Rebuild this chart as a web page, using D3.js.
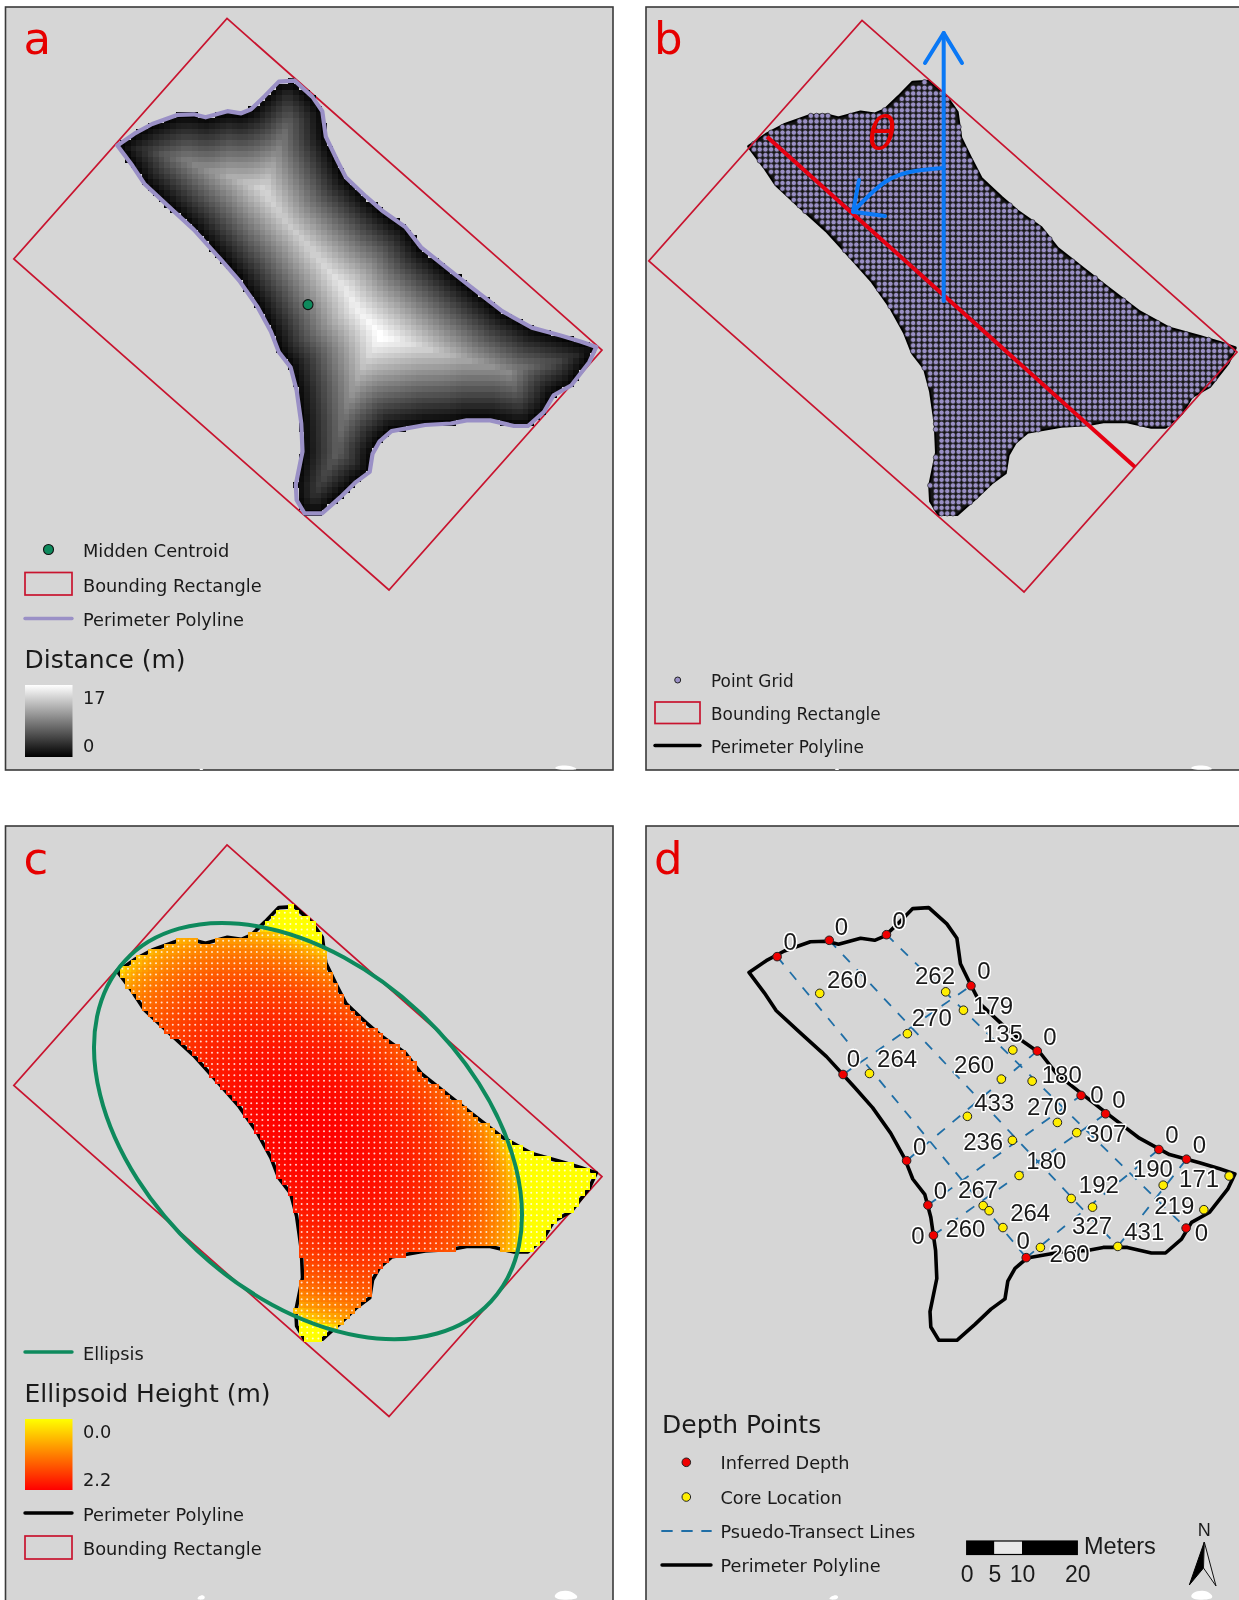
<!DOCTYPE html>
<html>
<head>
<meta charset="utf-8">
<script src="https://d3js.org/d3.v7.min.js"></script>
<style>
  body { margin: 0; background: #fff; }
  text { font-family: "DejaVu Sans", sans-serif; fill: #1a1a1a; }
</style>
</head>
<body>
<div id="chart"></div>
<script>
// midden outline (map units = panel a pixels)
const perimeter = [
  [117.4,145.4],[134.4,133.7],[152.2,124],[177.9,114.8],[193.8,114.3],[205.6,117.3],[227.4,111.2],
  [241.2,113.3],[251.1,109.2],[264.9,95.9],[278.8,81.6],[294.6,80.6],[312.4,96.9],[322.3,111.2],
  [325.8,136.7],[336.1,158.2],[346,177.6],[365.8,196.4],[381.6,210.2],[405.3,227],[421.1,247.4],
  [446.8,267.9],[470.5,286.7],[502.2,311.2],[531.8,327.6],[561.5,335.7],[581.3,341.8],[596.3,346.9],
  [589.2,362.2],[571.4,385.2],[553.6,395.4],[543.7,412.2],[527.9,426],[514,426],[490.3,420.4],
  [466.6,420.4],[450.8,423.5],[425.1,425],[391.5,431.1],[379.6,441.3],[372.5,454.1],[369.7,471.9],
  [355.9,482.1],[340.1,497.4],[322.3,513.3],[304.5,513.3],[296.6,500],[295.8,484.7],[302.5,451.5],
  [301.3,423.5],[296.6,390.3],[290.6,367.3],[278.8,352],[270.9,331.6],[257,306.1],[239.2,280.6],
  [221.4,260.2],[193.8,229.6],[166.1,204.1],[144.3,183.7],[132.5,165.8]
];
const boundingRect = [[227,18.4],[602,350],[389,590],[13.8,259]];
const centroid = [308,304.6];

// ellipse fitted to the bounding rectangle (panel c)
const ellipseA = 250, ellipseB = 163, ellipseAngle = 43;
const maxHeight = 2.2;
const distanceTicks = ["17","0"];
const heightTicks = ["0.0","2.2"];
const cellSize = 5.6;

// panel d, digitised coordinates (0-1568 over the panel's crop)
const inferredX = [398,530,675,889,1057,1168,1230,1365,1435,1434,1029,794,780,726,565];
const inferredY = [307,275,264,364,492,579,615,685,704,839,897,853,794,707,538];
const inferredLabelX = [431,561,707,922,1089,1208,1264,1398,1468,1473,1021,755,812,759,591];
const inferredLabelY = [278,247,236,335,463,577,587,656,676,848,863,854,765,679,506];

const coreX = [506,825,870,728,995,632,966,1044,880,1108,994,1157,1011,1376,1543,1143,1197,920,935,970,1479,1065,1261];
const coreY = [379,376,412,458,490,536,547,551,620,632,667,652,736,755,737,781,798,795,805,838,803,877,875];
const coreDepth = [260,262,179,270,135,264,260,180,433,270,236,307,180,190,171,192,327,267,260,264,219,260,431];
const coreLabelX = [575,798,945,790,970,702,897,1119,948,1082,920,1232,1080,1350,1467,1213,1196,907,875,1039,1404,1139,1328];
const coreLabelY = [351,343,402,427,458,507,519,538,592,600,669,653,707,723,741,753,834,763,840,809,795,888,846];

const transects = [
  [[398,307],[1029,897]],[[530,275],[1261,875]],[[675,264],[1434,839]],
  [[565,538],[889,364]],[[726,707],[1057,492]],[[780,794],[1168,579]],
  [[794,853],[1230,615]],[[1029,897],[1365,685]],[[1261,875],[1435,704]]
];

const scaleBarTicks = [0,5,10,20];

// white holes in the grey basemap along the bottom edges
const gaps = [
  [[553,770],[556,766],[566,765],[574,767],[580,770]],
  [[198,770],[201,768],[205,770]],
  [[1189,770],[1192,766],[1203,765],[1210,767],[1215,770]],
  [[833,770],[837,768],[841,770]],
  [[194,1600],[203,1593],[207,1600]],
  [[552,1600],[556,1592],[566,1590],[575,1593],[581,1600]],
  [[825,1600],[837,1593],[840,1600]],
  [[1189,1600],[1192,1592],[1203,1590],[1211,1593],[1215,1600]]
];

const width = 1239, height = 1600;
const red = "#c8142f", lavender = "#9a90c6", green = "#0e8a5d", blue = "#0a78f5", letterRed = "#e60000";

const svg = d3.select("#chart").append("svg")
  .attr("width", width).attr("height", height)
  .style("display", "block")
  .style("filter", "blur(0.4px)");
const defs = svg.append("defs");

function vGradient(id, top, bottom) {
  const g = defs.append("linearGradient").attr("id", id)
    .attr("x1", 0).attr("x2", 0).attr("y1", 0).attr("y2", 1);
  g.append("stop").attr("offset", "0%").attr("stop-color", top);
  g.append("stop").attr("offset", "100%").attr("stop-color", bottom);
}
vGradient("distGrad", "#ffffff", "#000000");
vGradient("heightGrad", "#ffff00", "#ff0000");

// panels: frame first, then the map on top
const frames = [
  { x: 5.5, y: 7, w: 607.5, h: 763, letter: "a", lx: 23.5, ly: 54 },
  { x: 646, y: 7, w: 600, h: 763, letter: "b", lx: 654, ly: 54 },
  { x: 5.5, y: 826, w: 607.5, h: 780, letter: "c", lx: 23.5, ly: 874 },
  { x: 646, y: 826, w: 600, h: 780, letter: "d", lx: 654, ly: 874 }
];
svg.selectAll("rect.frame").data(frames).join("rect")
  .attr("class", "frame")
  .attr("x", d => d.x).attr("y", d => d.y)
  .attr("width", d => d.w).attr("height", d => d.h)
  .attr("fill", "#d6d6d6").attr("stroke", "#3a3a3a").attr("stroke-width", 1.6);

svg.selectAll("path.gap").data(gaps).join("path")
  .attr("class", "gap").attr("fill", "#fff")
  .attr("d", d => d3.line().curve(d3.curveBasisClosed)(d));

// map scales per panel
const ident = d3.scaleLinear().domain([0, 620]);
const shapeA = { x: ident.copy().range([0, 620]), y: ident.copy().range([0, 620]) };
const shapeB = { x: ident.copy().range([749 - 117.4 * 1.0146, 749 + 502.6 * 1.0146]), y: ident.copy().range([1, 621]) };
const shapeC = { x: shapeA.x, y: ident.copy().range([826, 1446]) };
const shapeD = { x: shapeB.x, y: ident.copy().range([827, 1447]) };
const rectA = shapeA;
const rectB = { x: ident.copy().range([635, 1255]), y: ident.copy().range([2, 622]) };
const rectC = { x: shapeA.x, y: ident.copy().range([826.5, 1446.5]) };

const closed = s => d3.line().x(d => s.x(d[0])).y(d => s.y(d[1])).curve(d3.curveLinearClosed);

function drawRect(s) {
  svg.append("path").attr("d", closed(s)(boundingRect))
    .attr("fill", "none").attr("stroke", red).attr("stroke-width", 1.7);
}
function drawPerimeter(s, color, w) {
  svg.append("path").attr("d", closed(s)(perimeter))
    .attr("fill", "none").attr("stroke", color).attr("stroke-width", w)
    .attr("stroke-linejoin", "round");
}

// grid of cell centres inside the outline. The raster values in panels a and c
// are worked out from the outline and ellipse, there are too many cells to read
const cells = [];
for (let gx = 100; gx < 610; gx += cellSize) {
  for (let gy = 70; gy < 520; gy += cellSize) {
    if (d3.polygonContains(perimeter, [gx, gy])) cells.push({ x: gx, y: gy });
  }
}

function edgeDistance(px, py) {
  let best = Infinity;
  perimeter.forEach((a, i) => {
    const b = perimeter[(i + 1) % perimeter.length];
    const dx = b[0] - a[0], dy = b[1] - a[1];
    const t = Math.max(0, Math.min(1, ((px - a[0]) * dx + (py - a[1]) * dy) / (dx * dx + dy * dy)));
    best = Math.min(best, Math.hypot(px - a[0] - t * dx, py - a[1] - t * dy));
  });
  return best;
}
function ellipsoidHeight(px, py) {
  const phi = ellipseAngle * Math.PI / 180;
  const dx = px - centroid[0], dy = py - centroid[1];
  const u = dx * Math.cos(phi) + dy * Math.sin(phi);
  const v = -dx * Math.sin(phi) + dy * Math.cos(phi);
  const r2 = (u * u) / (ellipseA * ellipseA) + (v * v) / (ellipseB * ellipseB);
  return r2 < 1 ? maxHeight * Math.sqrt(1 - r2) : 0;
}
cells.forEach(c => {
  c.dist = edgeDistance(c.x, c.y);
  c.height = ellipsoidHeight(c.x, c.y);
});
const distMax = d3.max(cells, d => d.dist);
const distColor = d3.scaleLinear().domain([0, distMax]).range(["#000000", "#ffffff"]);
const heightColor = d3.scaleLinear().domain([0, maxHeight]).range(["#ffff00", "#ff0000"]);

function raster(s, colorOf) {
  svg.append("g").attr("shape-rendering", "crispEdges")
    .selectAll("rect").data(cells).join("rect")
    .attr("x", d => s.x(d.x) - cellSize / 2).attr("y", d => s.y(d.y) - cellSize / 2)
    .attr("width", cellSize + 0.4).attr("height", cellSize + 0.4)
    .attr("fill", colorOf);
}

function legendLabel(x, y, txt, size = 17.8) {
  return svg.append("text").attr("x", x).attr("y", y)
    .attr("dominant-baseline", "central").attr("font-size", size).text(txt);
}
function legendLine(x1, x2, y, color, w, dash) {
  svg.append("line").attr("x1", x1).attr("x2", x2).attr("y1", y).attr("y2", y)
    .attr("stroke", color).attr("stroke-width", w)
    .attr("stroke-linecap", "round").attr("stroke-dasharray", dash || null);
}
function legendBox(x, y, w, h) {
  svg.append("rect").attr("x", x).attr("y", y).attr("width", w).attr("height", h)
    .attr("fill", "none").attr("stroke", red).attr("stroke-width", 1.7);
}
function legendRamp(x, y, w, h, id) {
  svg.append("rect").attr("x", x).attr("y", y).attr("width", w).attr("height", h)
    .attr("fill", `url(#${id})`);
}

// panel a
drawRect(rectA);
raster(shapeA, d => distColor(d.dist));
drawPerimeter(shapeA, lavender, 4.2);
svg.append("circle").attr("cx", shapeA.x(centroid[0])).attr("cy", shapeA.y(centroid[1]))
  .attr("r", 5).attr("fill", green).attr("stroke", "#111").attr("stroke-width", 1.1);

svg.append("circle").attr("cx", 48.5).attr("cy", 549.5).attr("r", 5)
  .attr("fill", green).attr("stroke", "#111").attr("stroke-width", 1.1);
legendLabel(83, 550, "Midden Centroid");
legendBox(25, 572.5, 47, 22.5);
legendLabel(83, 585, "Bounding Rectangle");
legendLine(25, 72, 618.5, lavender, 3.4);
legendLabel(83, 619, "Perimeter Polyline");
legendLabel(24.5, 659, "Distance (m)", 25);
legendRamp(25, 685, 47.5, 72, "distGrad");
legendLabel(83, 697.5, distanceTicks[0]);
legendLabel(83, 745.5, distanceTicks[1]);

// panel b
drawPerimeter(shapeB, "#000", 3.6);
svg.append("path").attr("d", closed(shapeB)(perimeter)).attr("fill", "#141414");
svg.append("g").selectAll("circle").data(cells).join("circle")
  .attr("cx", d => shapeB.x(d.x)).attr("cy", d => shapeB.y(d.y))
  .attr("r", 2.6).attr("fill", lavender).attr("stroke", "#222").attr("stroke-width", 0.7);
drawRect(rectB);

// axis line and the vertical reference arrow with angle arc
const widthAxis = [[767,136.7],[1135,467]];
svg.append("path").attr("d", d3.line()(widthAxis))
  .attr("stroke", "#e60012").attr("stroke-width", 4).attr("fill", "none");
const arrowStyle = sel => sel.attr("fill", "none").attr("stroke", blue)
  .attr("stroke-width", 4).attr("stroke-linecap", "round").attr("stroke-linejoin", "round");
svg.append("path").attr("d", d3.line()([[943.7,301],[943.7,33]])).call(arrowStyle);
svg.append("path").attr("d", d3.line()([[925,63],[943.7,33],[962,63]])).call(arrowStyle);
svg.append("path").attr("d", d3.line().curve(d3.curveNatural)([[943.7,168],[915,171],[885,182],[853,211.7]])).call(arrowStyle);
svg.append("path").attr("d", d3.line()([[859,180],[853,211.7],[885,216]])).call(arrowStyle);
svg.append("text").attr("x", 882).attr("y", 133).attr("text-anchor", "middle")
  .attr("dominant-baseline", "central").attr("font-size", 46).attr("font-style", "italic")
  .style("fill", letterRed).text("θ");

svg.append("circle").attr("cx", 677.7).attr("cy", 680).attr("r", 3)
  .attr("fill", lavender).attr("stroke", "#222").attr("stroke-width", 1);
legendLabel(711, 680.5, "Point Grid", 16.9);
legendBox(655, 702, 45, 21.5);
legendLabel(711, 713.5, "Bounding Rectangle", 16.9);
legendLine(655, 700, 745.5, "#000", 3.4);
legendLabel(711, 746.5, "Perimeter Polyline", 16.9);

// panel c
drawRect(rectC);
drawPerimeter(shapeC, "#000", 3.6);
raster(shapeC, d => heightColor(d.height));
svg.append("g").selectAll("circle").data(cells).join("circle")
  .attr("cx", d => shapeC.x(d.x)).attr("cy", d => shapeC.y(d.y))
  .attr("r", 1).attr("fill", "#fff").attr("fill-opacity", 0.8);
svg.append("ellipse")
  .attr("transform", `translate(${rectC.x(centroid[0])},${rectC.y(centroid[1])}) rotate(${ellipseAngle})`)
  .attr("rx", ellipseA).attr("ry", ellipseB)
  .attr("fill", "none").attr("stroke", green).attr("stroke-width", 4);

legendLine(25, 72, 1352, green, 3.4);
legendLabel(83, 1353, "Ellipsis");
legendLabel(24.5, 1393, "Ellipsoid Height (m)", 25);
legendRamp(25, 1419, 47.5, 71, "heightGrad");
legendLabel(83, 1431, heightTicks[0]);
legendLabel(83, 1479.5, heightTicks[1]);
legendLine(25, 72, 1513, "#000", 3.4);
legendLabel(83, 1514, "Perimeter Polyline");
legendBox(25, 1536, 47, 23);
legendLabel(83, 1548.5, "Bounding Rectangle");

// panel d
const xD = d3.scaleLinear().domain([0, 1568]).range([620, 1239]);
const yD = d3.scaleLinear().domain([0, 1568]).range([800, 1600]);

svg.append("g").selectAll("path").data(transects).join("path")
  .attr("d", d => d3.line().x(p => xD(p[0])).y(p => yD(p[1]))(d))
  .attr("stroke", "#1f6ea6").attr("stroke-width", 1.8).attr("stroke-dasharray", "10 10").attr("fill", "none");
drawPerimeter(shapeD, "#000", 3.6);

svg.append("g").selectAll("circle").data(coreX).join("circle")
  .attr("cx", d => xD(d)).attr("cy", (d, i) => yD(coreY[i])).attr("r", 4.3)
  .attr("fill", "#ffee00").attr("stroke", "#222").attr("stroke-width", 1);
svg.append("g").selectAll("circle").data(inferredX).join("circle")
  .attr("cx", d => xD(d)).attr("cy", (d, i) => yD(inferredY[i])).attr("r", 4.3)
  .attr("fill", "#f00000").attr("stroke", "#222").attr("stroke-width", 1);

const depthLabels = coreDepth.map((v, i) => ({ v, x: coreLabelX[i], y: coreLabelY[i] }))
  .concat(inferredLabelX.map((x, i) => ({ v: 0, x, y: inferredLabelY[i] })));
svg.append("g").selectAll("text").data(depthLabels).join("text")
  .attr("x", d => xD(d.x)).attr("y", d => yD(d.y))
  .attr("text-anchor", "middle").attr("dominant-baseline", "central")
  .attr("font-size", 24).style("font-family", "'Liberation Sans'")
  .attr("paint-order", "stroke").attr("stroke", "#fff").attr("stroke-width", 3)
  .attr("stroke-linejoin", "round").text(d => d.v);

legendLabel(662, 1424.5, "Depth Points", 25);
svg.append("circle").attr("cx", 686.3).attr("cy", 1462.3).attr("r", 4.3)
  .attr("fill", "#f00000").attr("stroke", "#222").attr("stroke-width", 1);
legendLabel(720.5, 1463, "Inferred Depth", 17.7);
svg.append("circle").attr("cx", 686.3).attr("cy", 1497).attr("r", 4.3)
  .attr("fill", "#ffee00").attr("stroke", "#222").attr("stroke-width", 1);
legendLabel(720.5, 1497.5, "Core Location", 17.7);
legendLine(662, 711, 1531, "#1f6ea6", 1.8, "10 10");
legendLabel(720.5, 1532, "Psuedo-Transect Lines", 17.7);
legendLine(662, 711, 1565, "#000", 3.4);
legendLabel(720.5, 1566, "Perimeter Polyline", 17.7);

// scale bar
const barScale = d3.scaleLinear().domain([0, 20]).range([966.7, 1077.3]);
const segments = [[0,5,"#000"],[5,10,"#e8e8e8"],[10,20,"#000"]];
svg.append("g").selectAll("rect").data(segments).join("rect")
  .attr("x", d => barScale(d[0])).attr("width", d => barScale(d[1]) - barScale(d[0]))
  .attr("y", 1541).attr("height", 13.5).attr("fill", d => d[2]);
svg.append("rect").attr("x", barScale(0)).attr("width", barScale(20) - barScale(0))
  .attr("y", 1541).attr("height", 13.5).attr("fill", "none").attr("stroke", "#000").attr("stroke-width", 1.2);
const barAxis = svg.append("g").attr("transform", "translate(0,1556)")
  .call(d3.axisBottom(barScale).tickValues(scaleBarTicks).tickSize(0).tickPadding(10));
barAxis.select(".domain").remove();
barAxis.selectAll("text").attr("font-size", 23).style("font-family", "'Liberation Sans'");
svg.append("text").attr("x", 1084).attr("y", 1546).attr("dominant-baseline", "central")
  .attr("font-size", 23.5).style("font-family", "'Liberation Sans'").text("Meters");

// north arrow
svg.append("text").attr("x", 1204.3).attr("y", 1530).attr("text-anchor", "middle")
  .attr("dominant-baseline", "central").attr("font-size", 18)
  .style("font-family", "'Liberation Sans'").text("N");
svg.append("path").attr("d", "M1204.3,1542 L1189.3,1585 L1203.5,1568 Z").attr("fill", "#000").attr("stroke", "#000");
svg.append("path").attr("d", "M1204.3,1542 L1216,1586 L1203.5,1568 Z").attr("fill", "#e0e0e0").attr("stroke", "#111").attr("stroke-width", 1);

// panel letters
svg.selectAll("text.letter").data(frames).join("text")
  .attr("class", "letter").attr("x", d => d.lx).attr("y", d => d.ly)
  .attr("font-size", 45).style("fill", letterRed).text(d => d.letter);
</script>
</body>
</html>
